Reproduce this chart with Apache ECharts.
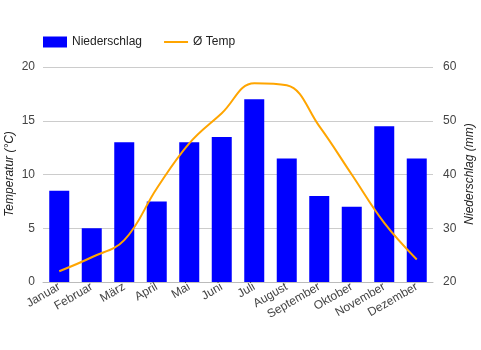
<!DOCTYPE html>
<html><head><meta charset="utf-8">
<script src="https://cdn.jsdelivr.net/npm/echarts@6/dist/echarts.min.js"></script>
<style>html,body{margin:0;padding:0;background:#fff}#c{width:481px;height:350px}</style>
</head><body><div id="c"></div>
<script>
const months = ['Januar','Februar','März','April','Mai','Juni','Juli','August','September','Oktober','November','Dezember'];
const niederschlag = [37, 30, 46, 35, 46, 47, 54, 43, 36, 34, 49, 43];
const temp = [1.0, 2.3, 3.9, 8.7, 12.9, 15.7, 18.5, 18.3, 14.5, 10.0, 5.5, 2.1];
const tempTicks = [0, 5, 10, 15, 20];
const rainTicks = [20, 30, 40, 50, 60];
const leftTitle = 'Temperatur (°C)';
const rightTitle = 'Niederschlag (mm)';

const font = 'Liberation Sans, Arial, sans-serif';
const chart = echarts.init(document.getElementById('c'), null, {renderer: 'canvas'});
chart.setOption({
  animation: false,
  textStyle: {fontFamily: font},
  legend: {
    left: 38, top: 31, itemWidth: 24, itemHeight: 11, itemGap: 22,
    textStyle: {color: '#222', fontSize: 12, fontFamily: font},
    data: [{name: 'Niederschlag', icon: 'rect'}, {name: 'Ø Temp', icon: 'path://M0,0 L24,0 L24,2 L0,2 Z'}]
  },
  graphic: [
    {type: 'text', x: 10, y: 174, rotation: Math.PI / 2,
     style: {text: leftTitle, fill: '#222', font: 'italic 12px ' + font, align: 'center', verticalAlign: 'middle'}},
    {type: 'text', x: 470, y: 174, rotation: Math.PI / 2,
     style: {text: rightTitle, fill: '#222', font: 'italic 12px ' + font, align: 'center', verticalAlign: 'middle'}}
  ],
  grid: {left: 43, right: 48, top: 67, bottom: 68, containLabel: false, outerBoundsMode: 'none'},
  xAxis: {
    type: 'category', data: months,
    axisTick: {show: false},
    axisLine: {lineStyle: {color: '#bbb'}},
    axisLabel: {rotate: 30, color: '#444', fontSize: 12, fontFamily: font, interval: 0, margin: 4}
  },
  yAxis: [{
    type: 'value', min: tempTicks[0], max: tempTicks[tempTicks.length-1], interval: 5,
    axisLabel: {color: '#444', fontSize: 12, fontFamily: font, margin: 8},
    splitLine: {lineStyle: {color: '#ccc'}},
    axisLine: {show: false}, axisTick: {show: false}
  }, {
    type: 'value', min: rainTicks[0], max: rainTicks[rainTicks.length-1], interval: 10,
    axisLabel: {color: '#444', fontSize: 12, fontFamily: font, margin: 10},
    splitLine: {show: false},
    axisLine: {show: false}, axisTick: {show: false}
  }],
  series: [{
    name: 'Niederschlag', type: 'bar', yAxisIndex: 1, data: niederschlag,
    barWidth: 20, itemStyle: {color: '#0000ff'}
  }, {
    name: 'Ø Temp', type: 'line', yAxisIndex: 0, data: temp,
    smooth: 0.4, symbol: 'none', lineStyle: {color: '#ffa500', width: 2}, itemStyle: {color: '#ffa500'}
  }]
});
</script></body></html>
